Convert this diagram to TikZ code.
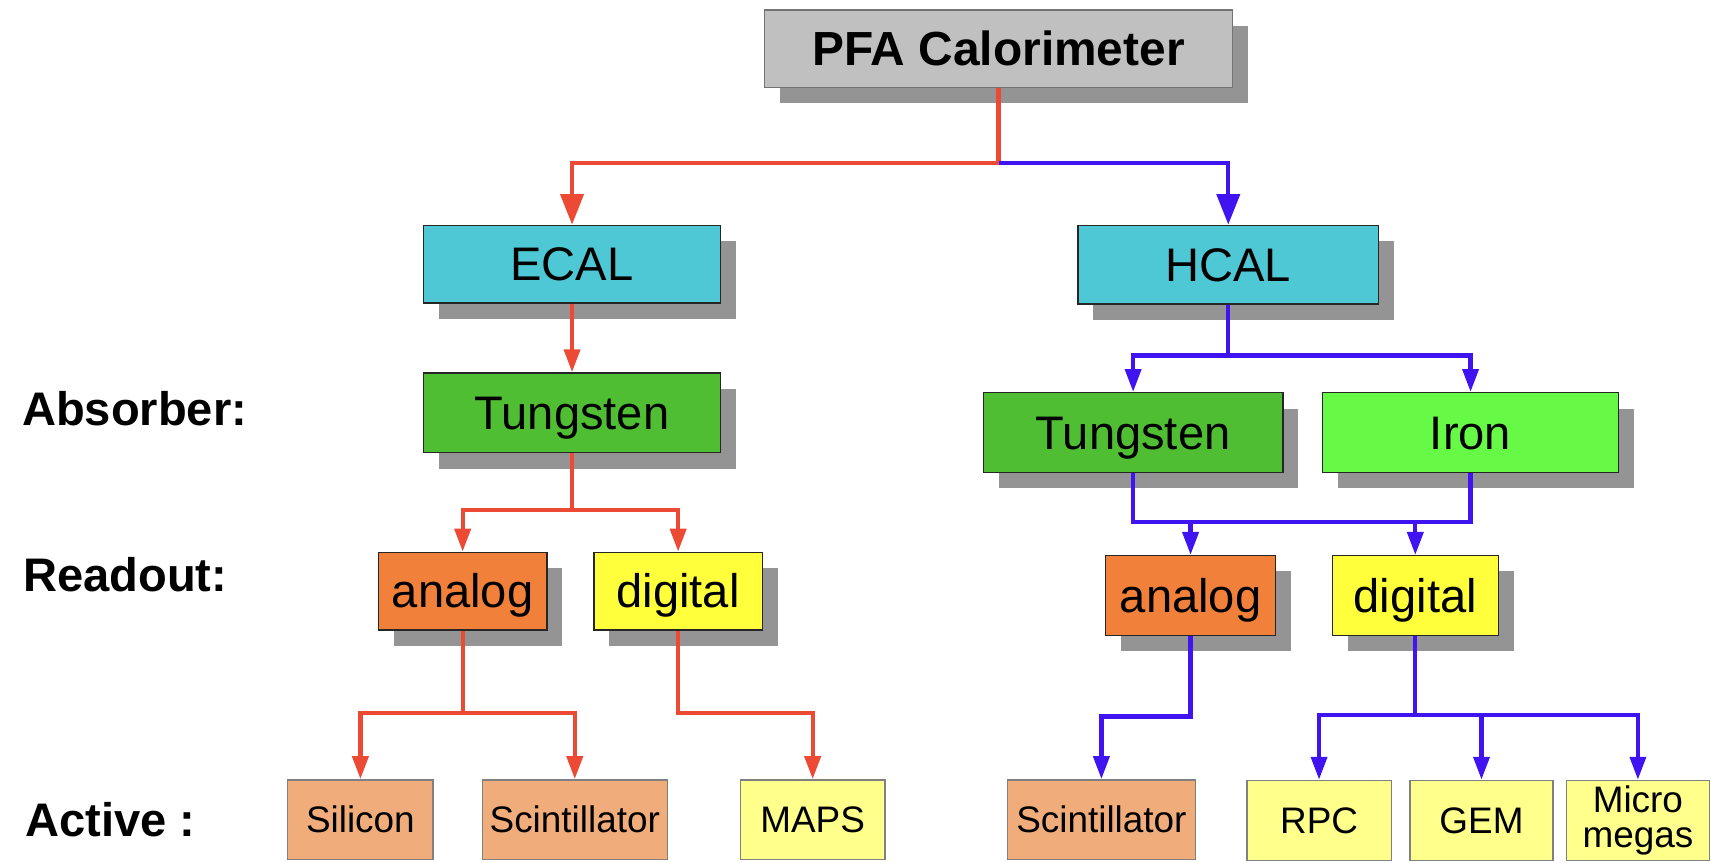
\documentclass[tikz,border=0pt]{standalone}
\usepackage{fontspec}
\setmainfont{Liberation Sans}
\usepackage{xcolor}
\usepackage{tikz}
\usetikzlibrary{shadows,arrows.meta}

\definecolor{headgray}{RGB}{192,192,192}
\definecolor{calcyan}{RGB}{78,200,212}
\definecolor{wgreen}{RGB}{80,190,50}
\definecolor{fegreen}{RGB}{102,250,70}
\definecolor{anaorange}{RGB}{240,128,58}
\definecolor{digyellow}{RGB}{255,255,60}
\definecolor{actorange}{RGB}{240,172,122}
\definecolor{actyellow}{RGB}{255,255,140}
\definecolor{linered}{RGB}{236,74,52}
\definecolor{lineblue}{RGB}{64,20,240}
\definecolor{shadowgray}{RGB}{148,148,148}

\begin{document}
\begin{tikzpicture}[%
  x=0.2mm, y=-0.2mm,
  box/.style={draw=black!85,line width=0.7pt,inner sep=0pt,minimum height=14.4mm,
    text height=17.5pt,text depth=0pt,font=\fontsize{24.5}{28}\selectfont,
    drop shadow={shadow xshift=2.8mm,shadow yshift=-2.9mm,fill=shadowgray,opacity=1}},
  head/.style={box,fill=headgray,draw=black!55,text height=17.8pt,
    font=\bfseries\fontsize{24.9}{28}\selectfont},
  cal/.style={box,fill=calcyan},
  absb/.style={box,minimum height=14.6mm},
  ro/.style={box},
  actbox/.style={draw=black!50,line width=0.7pt,inner sep=0pt,minimum height=14.6mm,
    font=\fontsize{19.2}{22}\selectfont},
  act/.style={actbox,text height=13.75pt,text depth=0pt},
  desc/.style={anchor=base west,font=\bfseries\fontsize{24.5}{28}\selectfont},
  rline/.style={draw=linered,line width=2.2pt},
  bline/.style={draw=lineblue,line width=2.2pt},
  arr/.style={-{Triangle[length=4.2mm,width=2.9mm]}},
  bigarr/.style={-{Triangle[length=5.6mm,width=4.2mm]}}
]
  \useasboundingbox (0,0) rectangle (1568,789);

  % boxes
  \node (pfa) at (913,44.5) [head,minimum width=85.6mm,minimum height=14.2mm] {PFA Calorimeter};

  \node (ecal) at (523,241.5) [cal,minimum width=54.4mm,minimum height=14.2mm] {ECAL};
  \node (hcal) at (1123,242) [cal,minimum width=55mm] {HCAL};

  \node (wecal) at (523,377.5) [absb,fill=wgreen,minimum width=54.4mm] {Tungsten};
  \node (whcal) at (1036,395.5) [absb,fill=wgreen,minimum width=54.8mm] {Tungsten};
  \node (iron) at (1344.5,395.5) [absb,fill=fegreen,minimum width=54.2mm] {Iron};

  \node (anaecal) at (423,540.5) [ro,fill=anaorange,minimum width=30.8mm,minimum height=14.2mm] {analog};
  \node (digecal) at (620,540.5) [ro,fill=digyellow,minimum width=30.8mm,minimum height=14.2mm] {digital};
  \node (anahcal) at (1088.5,544.5) [ro,fill=anaorange,minimum width=31mm,minimum height=14.6mm] {analog};
  \node (dighcal) at (1294,544.5) [ro,fill=digyellow,minimum width=30.4mm,minimum height=14.6mm] {digital};

  \node (si) at (329.5,749.5) [act,fill=actorange,minimum width=26.6mm] {Silicon};
  \node (scecal) at (525.5,749.5) [act,fill=actorange,minimum width=33.8mm] {Scintillator};
  \node (maps) at (743,749.5) [act,fill=actyellow,minimum width=26.4mm] {MAPS};
  \node (schcal) at (1007,749.5) [act,fill=actorange,minimum width=34.4mm] {Scintillator};
  \node (rpc) at (1206,750) [act,fill=actyellow,minimum width=26.4mm] {RPC};
  \node (gem) at (1354.5,750) [act,fill=actyellow,minimum width=26.2mm] {GEM};
  \node (mmeg) at (1497.5,750) [actbox,fill=actyellow,minimum width=26.2mm,align=center,
    font=\fontsize{19.2}{18.2}\selectfont] {Micro\\megas};

  % row labels
  \node (absorber) at (14,389) [desc] {Absorber:};
  \node (readout) at (15,541) [desc] {Readout:};
  \node (active) at (17,765) [desc] {Active :};

  % junctions
  \coordinate (pfaj) at (913,149);
  \coordinate (wecalj) at (523,466);
  \coordinate (anaecalj) at (423,652);
  \coordinate (digecalj) at (620,652);
  \coordinate (hcalj) at (1123,325);
  \coordinate (wj) at (1036,477);
  \coordinate (fej) at (1344.5,477);
  \coordinate (anahcalj) at (1088.5,655);
  \coordinate (dighcalj) at (1294,654);

  % ECAL side
  \draw[rline,bigarr] (pfa) -- (pfaj) -| (ecal);
  \draw[rline,arr] (ecal) -- (wecal);
  \draw[rline,arr] (wecal) -- (wecalj) -| (anaecal);
  \draw[rline,arr] (wecal) -- (wecalj) -| (digecal);
  \draw[rline,arr] (anaecal) -- (anaecalj) -| (si);
  \draw[rline,arr] (anaecal) -- (anaecalj) -| (scecal);
  \draw[rline,arr] (digecal) -- (digecalj) -| (maps);

  % HCAL side
  \draw[bline,bigarr] (pfaj) -| (hcal);
  \draw[bline,arr] (hcal) -- (hcalj) -| (whcal);
  \draw[bline,arr] (hcal) -- (hcalj) -| (iron);
  \draw[bline] (whcal) -- (wj) -- (fej) -- (iron);
  \draw[bline,arr] (anahcal |- wj) -- (anahcal);
  \draw[bline,arr] (dighcal |- wj) -- (dighcal);
  \draw[bline,arr] (anahcal) -- (anahcalj) -| (schcal);
  \draw[bline,arr] (dighcal) -- (dighcalj) -| (rpc);
  \draw[bline,arr] (dighcal) -- (dighcalj) -| (gem);
  \draw[bline,arr] (dighcal) -- (dighcalj) -| (mmeg);
\end{tikzpicture}
\end{document}
